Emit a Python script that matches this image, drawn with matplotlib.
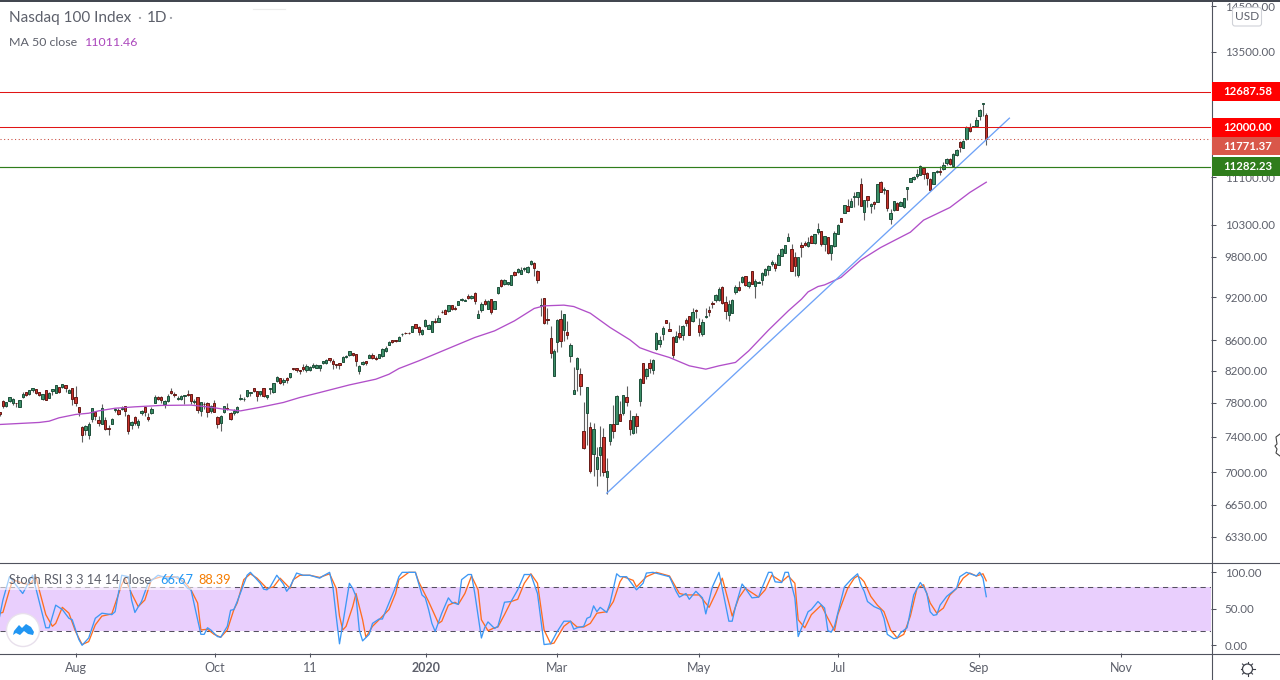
import matplotlib
matplotlib.use('Agg')
import matplotlib.pyplot as plt
from matplotlib.patches import Rectangle, FancyBboxPatch, Circle, Polygon
from matplotlib.ticker import NullLocator, FixedLocator, FixedFormatter

plt.rcParams['font.family'] = ['Lato', 'DejaVu Sans']

# daily candles, Nasdaq 100
opens = [
 7684,7823,7766,7823,7803,7799,7754,7877,7930,7910,7959,7967,7930,7852,7955,7864,7950,7926,7992,7996,
 8016,7926,7979,7868,7750,7512,7479,7422,7606,7688,7598,7545,7598,7495,7545,7717,7709,7729,7758,7659,
 7536,7635,7532,7680,7745,7635,7680,7803,7877,7877,7786,7823,7942,7905,7844,7848,7885,7905,7905,7815,
 7868,7705,7791,7795,7705,7795,7635,7557,7684,7733,7672,7676,7692,7844,7844,7881,7922,7979,7942,7914,
 7979,7868,7971,7930,8068,8103,8055,8103,8120,8233,8233,8207,8246,8211,8216,8251,8242,8238,8307,8303,
 8364,8329,8290,8298,8320,8385,8412,8429,8420,8203,8290,8325,8372,8407,8372,8372,8394,8464,8542,8599,
 8599,8594,8680,8706,8706,8715,8817,8775,8684,8789,8757,8715,8862,8853,8997,9025,9006,9082,9049,9092,
 9167,9148,9224,9191,9268,8913,9021,9153,9035,9177,9039,9263,9447,9394,9394,9384,9574,9569,9545,9615,
 9574,9686,9712,9590,9068,9182,8890,8638,8137,8573,8899,8743,8720,8398,7911,8218,8165,7459,7683,7506,
 7206,7030,7190,7392,6950,7353,7545,7548,7660,7675,7868,7590,7443,7640,7825,8295,8135,8295,8213,8483,
 8555,8688,8885,8748,8652,8582,8706,8674,8872,8928,8867,9020,8803,8688,8922,9015,9120,9163,9163,9342,
 9125,8952,8980,9280,9342,9425,9504,9366,9578,9366,9410,9445,9529,9603,9694,9684,9679,9815,9861,10048,
 9913,9790,9524,9990,10006,9965,10116,10011,10191,10196,10001,10100,9861,9965,10159,10405,10497,10602,10596,10752,
 10763,10972,10517,10769,10602,10674,10680,11018,10870,10870,10400,10547,10652,10612,10585,10898,11018,11058,11120,11135,
 11252,11170,11065,10985,11180,11198,11240,11345,11415,11287,11487,11730,11620,11779,12006,12005,12018,12217,12441,12229]
highs = [
 7684,7832,7815,7868,7856,7799,7840,7930,7938,7963,7983,7971,7938,7914,7959,7938,7971,8020,7996,8032,
 8020,7971,7987,8008,7750,7520,7532,7569,7741,7700,7643,7786,7627,7536,7618,7741,7741,7758,7766,7664,
 7581,7643,7602,7717,7750,7676,7745,7897,7881,7889,7840,7905,7979,7930,7881,7897,7893,7959,7914,7848,
 7877,7815,7807,7807,7774,7836,7643,7655,7766,7799,7684,7725,7758,7910,7868,7963,7938,7987,7950,7950,
 7983,7901,7979,8045,8129,8111,8103,8120,8168,8238,8233,8207,8290,8285,8268,8303,8294,8277,8325,8355,
 8368,8355,8290,8298,8390,8412,8464,8438,8425,8277,8333,8329,8425,8433,8390,8425,8494,8520,8590,8608,
 8603,8661,8697,8715,8715,8793,8826,8789,8752,8894,8817,8867,8904,8950,9021,9039,9087,9087,9068,9153,
 9186,9172,9253,9234,9277,9016,9134,9172,9162,9181,9148,9355,9461,9461,9428,9530,9589,9630,9650,9650,
 9660,9748,9722,9600,9196,9191,9040,8789,8490,8899,9020,8955,8870,8570,8248,8386,8235,7813,8002,7565,
 7558,7286,7522,7504,7155,7552,7780,7893,7825,7900,8010,7710,7644,7675,8110,8307,8240,8350,8347,8720,
 8661,8797,8885,8853,8661,8730,8810,8810,8913,8936,9040,9030,8904,8890,9045,9080,9150,9245,9342,9356,
 9221,9158,9173,9376,9440,9514,9514,9440,9588,9465,9440,9573,9623,9674,9756,9725,9856,9928,9985,10164,
 9995,9866,9800,10022,10048,10100,10138,10159,10330,10207,10127,10111,9980,10196,10314,10420,10630,10724,10735,10837,
 10848,11076,10713,10780,10652,10691,10983,11030,10921,10881,10558,10696,10668,10685,10746,10932,11092,11120,11238,11310,
 11263,11180,11076,11192,11215,11285,11357,11427,11427,11522,11596,11742,11754,12018,12074,12025,12193,12354,12466,12260]
lows = [
 7643,7741,7750,7807,7778,7745,7750,7864,7889,7901,7938,7914,7881,7832,7836,7856,7901,7922,7922,7979,
 7938,7918,7778,7758,7643,7336,7418,7368,7569,7594,7520,7541,7471,7418,7541,7692,7659,7709,7643,7434,
 7487,7532,7495,7655,7643,7577,7668,7799,7840,7803,7741,7807,7910,7873,7836,7832,7786,7881,7791,7791,
 7676,7643,7725,7631,7672,7684,7504,7459,7672,7717,7594,7651,7676,7832,7823,7868,7881,7938,7828,7889,
 7873,7852,7914,7922,8059,8037,8020,8050,8111,8216,8190,8159,8194,8190,8198,8233,8233,8198,8294,8285,
 8312,8225,8242,8225,8312,8372,8398,8398,8268,8164,8281,8281,8364,8355,8346,8364,8381,8442,8533,8563,
 8577,8590,8661,8693,8688,8711,8762,8669,8669,8785,8752,8711,8835,8844,8974,8955,8997,9021,9021,9082,
 9144,9139,9177,9181,9101,8908,8988,9096,9030,8964,9030,9244,9355,9384,9384,9379,9510,9560,9540,9590,
 9560,9676,9512,9408,8936,8821,8821,8361,8137,8450,8510,8595,8620,8320,7911,7949,7898,7256,7303,6990,
 6960,6845,6960,6960,6770,7303,7380,7548,7587,7652,7765,7417,7428,7447,7765,8044,8093,8170,8165,8474,
 8505,8608,8830,8730,8365,8573,8616,8608,8798,8670,8853,8904,8660,8660,8913,8936,9040,9134,9149,9110,
 8891,8863,8970,9250,9294,9405,9366,9327,9386,9193,9405,9376,9514,9524,9664,9588,9669,9805,9856,10037,
 9583,9504,9499,9790,9960,9954,10011,10001,10154,9960,9892,9840,9754,9954,10148,10340,10486,10519,10585,10585,
 10630,10602,10383,10585,10502,10558,10668,10837,10808,10530,10318,10530,10536,10602,10569,10713,11007,11041,11092,11130,
 11065,10963,10865,10974,11170,11130,11229,11310,11310,11275,11463,11547,11608,11767,11914,11998,12006,12142,12205,11672]
closes = [
 7668,7766,7807,7868,7848,7795,7832,7910,7901,7955,7983,7926,7893,7905,7840,7922,7971,8016,7938,8028,
 7987,7955,7852,7803,7692,7413,7524,7549,7733,7643,7557,7733,7483,7487,7610,7721,7668,7733,7705,7459,
 7573,7553,7586,7705,7692,7602,7721,7868,7848,7840,7819,7889,7926,7901,7856,7889,7893,7901,7823,7819,
 7713,7807,7782,7684,7762,7684,7545,7647,7758,7729,7606,7700,7745,7856,7848,7955,7930,7950,7881,7942,
 7881,7893,7979,8041,8120,8046,8090,8090,8168,8220,8216,8198,8229,8259,8251,8272,8277,8272,8325,8338,
 8346,8294,8272,8281,8377,8394,8455,8412,8325,8264,8316,8307,8407,8372,8359,8420,8486,8499,8577,8581,
 8586,8652,8684,8702,8702,8789,8771,8715,8738,8885,8803,8858,8853,8913,8988,8964,9082,9035,9039,9139,
 9177,9162,9191,9224,9148,8955,9101,9106,9139,8993,9139,9341,9365,9452,9418,9525,9525,9620,9605,9630,
 9640,9732,9636,9457,9087,8843,8880,8437,8464,8885,8595,8955,8675,8532,7953,8373,8010,7264,8002,7016,
 7483,7172,7286,6997,7008,7545,7460,7885,7587,7892,7813,7490,7640,7528,8093,8052,8230,8240,8338,8697,
 8600,8762,8838,8730,8408,8661,8652,8789,8835,8674,8987,9010,8715,8845,8940,8997,9110,9226,9318,9120,
 9008,9101,9158,9342,9308,9494,9381,9425,9396,9440,9425,9558,9608,9664,9715,9633,9835,9913,9975,10100,
 9588,9664,9790,9954,9985,10022,10017,10148,10228,10001,10116,9861,9975,10164,10298,10351,10620,10530,10685,10775,
 10848,10612,10702,10713,10635,10646,10972,10848,10893,10580,10502,10685,10547,10674,10735,10921,11080,11109,11150,11297,
 11150,11083,10882,11180,11198,11180,11310,11415,11328,11504,11584,11638,11742,12006,11926,12018,12130,12323,12453,11771.37]

# MA 50 close
ma_bars = [0,12,15,18,23,27,30,35,41,49,58,64,68,73,79,86,91,97,106,114,118,121,127,136,144,150,156,162,165,171,174,
           179,185,191,194,198,203,209,214,218,223,227,233,239,243,245,248,250,255,261,267,276,280,288,294,299]
ma_vals = [7541,7565,7580,7620,7660,7675,7703,7735,7752,7769,7773,7747,7723,7703,7747,7805,7866,7927,8022,8094,8157,
           8230,8329,8492,8639,8729,8866,9040,9077,9087,9067,8973,8775,8608,8502,8439,8373,8265,8222,8265,8309,
           8460,8739,9006,9172,9277,9355,9379,9489,9752,9943,10184,10378,10585,10836,11011.46]

# Stoch RSI %K
k_bars = [0,1,3,7,10,14,15,17,19,21,22,24,25,27,29,31,34,35,37,39,40,41,43,45,48,51,54,57,58,60,61,62,63,64,66,67,69,70,71,72,
          75,76,78,79,80,81,82,84,86,87,88,90,92,94,97,98,100,101,102,103,106,107,108,109,110,112,113,115,116,118,120,121,122,126,128,129,
          130,131,132,134,136,137,139,140,142,143,144,146,147,148,150,151,153,155,157,159,161,163,165,167,169,171,173,174,175,177,178,179,180,181,182,184,185,
          187,188,190,193,195,196,198,203,205,206,208,209,211,213,214,216,218,219,221,222,223,225,226,228,230,231,233,234,235,237,238,239,241,242,244,245,246,248,250,251,252,253,256,258,260,
          261,262,263,265,267,268,269,271,272,273,275,277,279,280,281,282,283,284,285,287,290,291,293,296,297,298,299]
k_vals = [39.5,62,94,71,96,24,24,55,49,37,35,8,0,10,37,44,42,46,96,94,62,45,60,85,96,92,94,78,76,35,15,15,24,21,12,11,26,48,49,60,
          96,100,90,85,77,76,80,96,84,74,80,99,96,96,92,95,100,80,40,2,85,78,67,21,6,15,30,36,36,58,80,94,100,100,69,65,
          49,30,19,44,65,59,56,90,97,97,71,10,24,32,23,26,59,60,76,97,97,71,1,2,19,33,33,22,24,26,37,39,54,46,52,45,58,
          98,94,94,76,85,99,100,94,74,66,71,63,74,65,43,80,100,78,33,33,53,84,78,65,66,78,100,100,87,86,100,100,65,12,35,46,49,60,51,20,18,26,80,90,98,
          83,74,60,53,49,37,15,9,10,17,24,69,86,80,71,46,41,42,55,67,78,94,100,95,100,92,66.67]

# Stoch RSI %D
d_bars = [0,1,3,4,7,9,11,12,14,16,17,19,21,23,25,27,29,31,34,37,38,40,42,44,46,49,53,56,58,60,61,63,65,67,69,71,72,74,76,78,81,83,85,88,89,91,94,97,100,102,103,104,105,107,108,110,111,113,115,118,120,121,124,126,127,
          130,132,133,134,136,138,139,141,143,145,146,148,150,151,153,155,157,159,161,163,165,167,168,171,173,175,177,179,181,184,186,188,189,192,193,196,199,203,206,208,212,215,217,219,221,222,224,226,230,232,234,237,239,241,242,244,246,249,251,253,254,257,259,260,
          261,262,264,266,268,270,272,274,276,278,280,282,284,286,288,290,292,294,296,298,299]
d_vals = [44,45,76,90,85,83,94,76,42,26,30,52,44,19,1,5,28,40,43,83,92,71,53,62,90,94,94,87,76,58,21,22,15,11,21,49,58,90,98,92,78,80,92,78,90,96,96,93,98,78,40,21,26,53,71,35,11,26,35,49,71,90,100,100,87,
          60,40,30,33,55,59,56,71,95,76,35,20,24,25,42,60,63,85,98,85,21,2,3,26,33,25,25,30,44,46,60,87,94,89,80,94,100,95,71,69,69,52,71,92,58,40,65,78,66,76,96,87,95,85,35,24,42,55,37,20,42,78,92,95,
          92,87,67,55,46,21,10,15,40,78,83,58,44,51,69,78,92,99,95,98,88.39]

# levels and trend line
level_12687 = 12687.58
level_12000 = 12000.00
level_last = 11771.37
level_11282 = 11282.23
trend_bars = [184, 306]
trend_vals = [6774, 12170]

price_ticks = [14500,13500,11100,10300,9800,9200,8600,8200,7800,7400,7000,6650,6330]
stoch_ticks = [0,50,100]
time_bars = [23.15,65.3,94.1,129.2,168.9,211.9,254.1,296.8,339.8]
time_labels = ['Aug','Oct','11','2020','Mar','May','Jul','Sep','Nov']

GREY = '#5d606b'
AXC = '#50535e'
W, H = 1280, 680

fig = plt.figure(figsize=(12.8, 6.8), dpi=100, facecolor='white')
ax = fig.add_axes([0, 1-562/H, 1211/W, 561/H])
ax2 = fig.add_axes([0, 1-653/H, 1211/W, 90/H])
xlim = (0.12, 367.1)

# price pane
ax.set_yscale('log')
ax.set_xlim(xlim)
ax.set_ylim(6083, 14615)
up_col, up_edge = '#3c8f68', '#1d4f3a'
dn_col, dn_edge = '#c8322b', '#651a16'
for i in range(len(opens)):
    o, h, l, c = opens[i], highs[i], lows[i], closes[i]
    ax.plot([i, i], [l, h], color='#5f5f5f', lw=0.8, zorder=2, solid_capstyle='butt')
    bot, top = min(o, c), max(o, c)
    is_up = c >= o
    ax.bar(i, top-bot, bottom=bot, width=0.72, color=up_col if is_up else dn_col,
           edgecolor=up_edge if is_up else dn_edge, linewidth=0.7, zorder=3)
ax.plot(ma_bars, ma_vals, color='#b14fc9', lw=0.95, zorder=4)
ax.plot(trend_bars, trend_vals, color='#6ea2f7', lw=0.95, zorder=5)
ax.axhline(level_12687, color='#e01515', lw=0.75, zorder=5)
ax.axhline(level_12000, color='#e01515', lw=0.75, zorder=5)
ax.axhline(level_last, color='#c8483c', lw=0.75, ls=(0, (1, 2.5)), zorder=5)
ax.axhline(level_11282, color='#2f7d1c', lw=0.85, zorder=5)
ax.yaxis.tick_right()
ax.yaxis.set_major_locator(FixedLocator(price_ticks))
ax.yaxis.set_major_formatter(FixedFormatter(['%.2f' % t for t in price_ticks]))
ax.yaxis.set_minor_locator(NullLocator())
ax.tick_params(axis='y', length=3.6, width=0.75, color=AXC, labelcolor=GREY, labelsize=8.3, pad=6.2)
ax.set_xticks([])
for s in ax.spines.values():
    s.set_visible(False)

# stoch pane
ax2.set_xlim(xlim)
ax2.set_ylim(-10.6, 112.8)
ax2.axhspan(20, 80, color='#e9cffd', lw=0, zorder=1)
ax2.axhline(80, color='#555060', lw=0.75, ls=(0, (5, 4)), zorder=2)
ax2.axhline(20, color='#555060', lw=0.75, ls=(0, (5, 4)), zorder=2)
ax2.plot(d_bars, d_vals, color='#ff6d1f', lw=0.95, zorder=3)
ax2.plot(k_bars, k_vals, color='#3d98f5', lw=0.95, zorder=4)
ax2.yaxis.tick_right()
ax2.set_yticks(stoch_ticks, ['%.2f' % t for t in stoch_ticks])
ax2.tick_params(axis='y', length=3.6, width=0.75, color=AXC, labelcolor=GREY, labelsize=8.3, pad=6.2)
ax2.set_xticks(time_bars, time_labels)
ax2.tick_params(axis='x', length=3, width=0.75, color=AXC, labelcolor=GREY, labelsize=9, pad=3.8)
for lab in ax2.get_xticklabels():
    if lab.get_text() == '2020':
        lab.set_fontweight('bold')
for s in ax2.spines.values():
    s.set_visible(False)

# overlay in pixels for frame, labels and icons
ov = fig.add_axes([0, 0, 1, 1], facecolor='none', zorder=10)
ov.set_xlim(0, W)
ov.set_ylim(H, 0)
ov.axis('off')
ov.plot([0, W], [0.5, 0.5], color='#1e222d', lw=1.2)
ov.plot([0, W], [562.5, 562.5], color=AXC, lw=0.8)
ov.plot([0, W], [653.5, 653.5], color=AXC, lw=0.8)
ov.plot([1211.5, 1211.5], [0, H], color=AXC, lw=0.8)
ov.plot([253, 285], [8.5, 8.5], color='#ececec', lw=0.8)

ov.text(9, 18, 'Nasdaq 100 Index', color=GREY, fontsize=11, va='center')
ov.text(137, 18, '·', color=GREY, fontsize=11, va='center', alpha=0.6)
ov.text(147, 18, '1D', color=GREY, fontsize=11, va='center')
ov.text(168, 18, '·', color=GREY, fontsize=11, va='center', alpha=0.6)
ov.text(9, 42, 'MA 50 close', color=GREY, fontsize=8.9, va='center')
ov.text(85, 42, '11011.46', color='#ab47bc', fontsize=8.9, va='center')

# stoch legend
ov.add_patch(Rectangle((0, 572), 235, 18, facecolor='white', alpha=0.55, lw=0))
ov.text(9, 580, 'Stoch RSI 3 3 14 14 close', color=GREY, fontsize=9.2, va='center')
ov.text(160, 580, '66.67', color='#2196f3', fontsize=9.2, va='center')
ov.text(198, 580, '88.39', color='#f57c00', fontsize=9.2, va='center')

# price labels
for txt, cy, col, h in [('12687.58', 91.5, '#ff0000', 19), ('12000.00', 127.5, '#ff0000', 19),
                        ('11771.37', 146, '#d9574a', 18), ('11282.23', 166.5, '#2f7d1c', 19)]:
    ov.add_patch(Rectangle((1212, cy-h/2), 68, h, facecolor=col, lw=0, zorder=3))
    ov.text(1223, cy, txt, color='white', fontsize=8.2, fontweight='bold', va='center', zorder=4)

# USD button
ov.add_patch(FancyBboxPatch((1232.5, 7.5), 29, 18.5, boxstyle='round,pad=0,rounding_size=2.5', facecolor='white',
                            edgecolor='#d0d2d8', lw=0.8, zorder=3))
ov.text(1247, 17, 'USD', color=GREY, fontsize=8.6, ha='center', va='center', zorder=4)

# cursor stub at the right edge
ov.plot([1280, 1276, 1277, 1275, 1277, 1276, 1280], [434, 437, 444, 446, 449, 453, 456], color='#444444', lw=0.8)

# logo
ov.add_patch(Circle((23, 630), 16.5, facecolor='white', edgecolor='#e8e0ec', lw=1, zorder=5))
ov.add_patch(Polygon([(13, 635), (14, 631), (19, 625), (22, 628), (26, 624), (31, 627), (34, 632), (33, 635),
                      (28, 634), (24, 631), (20, 635), (16, 633)], closed=True, facecolor='#2196f3', lw=0, zorder=6))

# gear
ov.add_patch(Circle((1247.5, 669), 5, facecolor='white', edgecolor='#3c3f48', lw=0.9, zorder=5))
for dx, dy in [(0, 7), (0, -7), (7, 0), (-7, 0), (5, 5), (-5, 5), (5, -5), (-5, -5)]:
    ov.plot([1247.5+dx*0.75, 1247.5+dx], [669+dy*0.75, 669+dy], color='#3c3f48', lw=0.8)

fig.savefig('out.png', dpi=100)
